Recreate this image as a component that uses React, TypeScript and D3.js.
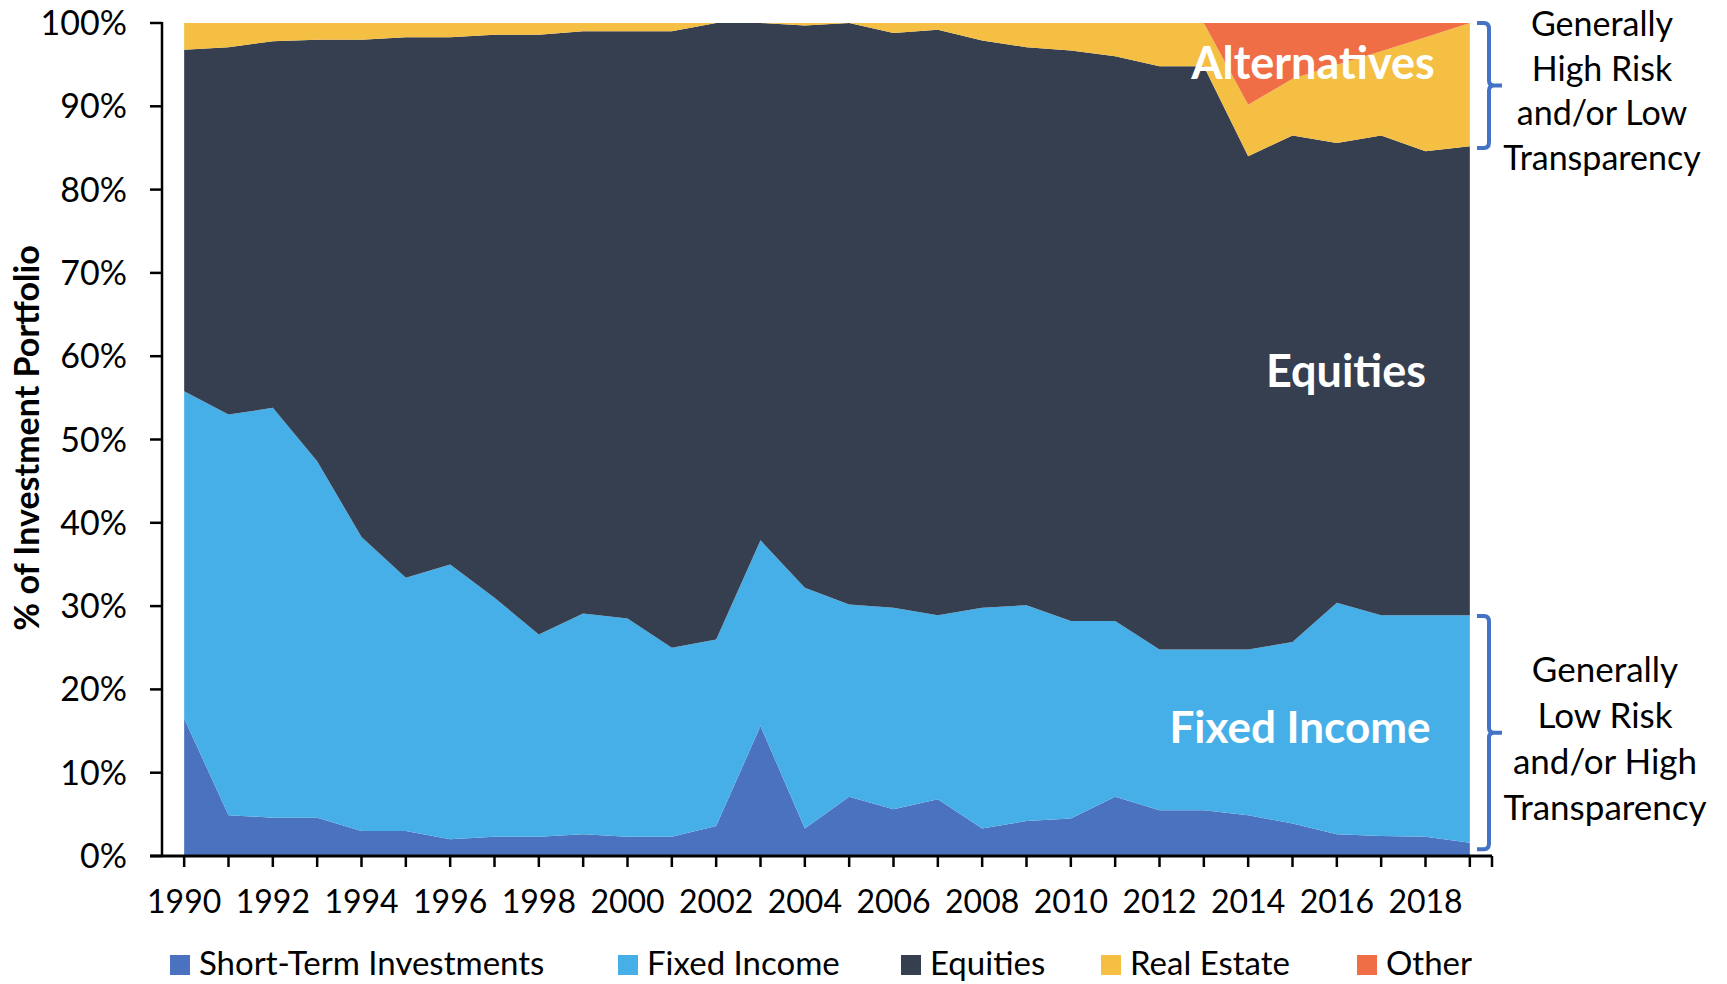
import React from 'react'
import * as d3 from 'd3'

const years = d3.range(1990, 2020).map(String)
const seriesNames = ['Short-Term Investments', 'Fixed Income', 'Equities', 'Real Estate', 'Other']
const seriesColors = ['#4A72BE', '#47AFE8', '#363F50', '#F4BF42', '#EF6E45']

const shortTerm = [16.5, 4.9, 4.6, 4.6, 3.0, 3.0, 2.0, 2.3, 2.3, 2.6, 2.3, 2.3, 3.6, 15.6, 3.3, 7.1, 5.6, 6.8, 3.3, 4.2, 4.5, 7.1, 5.5, 5.5, 4.9, 3.9, 2.6, 2.4, 2.3, 1.6]
const fixedIncome = [39.3, 48.1, 49.2, 42.8, 35.3, 30.4, 33.0, 28.7, 24.3, 26.5, 26.2, 22.7, 22.4, 22.3, 28.9, 23.1, 24.2, 22.1, 26.5, 25.9, 23.7, 21.1, 19.3, 19.3, 19.9, 21.8, 27.8, 26.5, 26.6, 27.3]
const equities = [41.0, 44.1, 44.0, 50.6, 59.7, 64.9, 63.3, 67.6, 72.0, 69.9, 70.5, 74.0, 74.0, 62.1, 67.5, 69.8, 69.0, 70.3, 68.1, 67.0, 68.5, 67.8, 70.0, 70.0, 59.2, 60.8, 55.2, 57.6, 55.7, 56.3]
const realEstate = [3.2, 2.9, 2.2, 2.0, 2.0, 1.7, 1.7, 1.4, 1.4, 1.0, 1.0, 1.0, 0, 0, 0.3, 0, 1.2, 0.8, 2.1, 2.9, 3.3, 4.0, 5.2, 5.2, 6.2, 6.8, 9.4, 10.1, 13.7, 14.8]
const other = [0, 0, 0, 0, 0, 0, 0, 0, 0, 0, 0, 0, 0, 0, 0, 0, 0, 0, 0, 0, 0, 0, 0, 0, 9.8, 6.7, 5.0, 3.4, 1.7, 0]

const yTicks = d3.range(0, 101, 10)
const legendX = [170, 618, 901, 1101, 1357]

const FONT = 'Lato, "Open Sans", sans-serif'

function bracketPath(x0, y0, y1) {
  // brace: serifs to the left, nib in the middle pointing right
  const xv = x0 + 12
  const ym = (y0 + y1) / 2
  return `M${x0},${y0} H${xv - 5} Q${xv},${y0} ${xv},${y0 + 6} V${ym - 5} Q${xv},${ym} ${xv + 5},${ym} H${xv + 13}` +
    ` M${xv + 5},${ym} Q${xv},${ym} ${xv},${ym + 5} V${y1 - 6} Q${xv},${y1} ${xv - 5},${y1} H${x0}`
}

export default function App() {
  const left = 162
  const right = 1492
  const top = 23
  const bottom = 856

  const rows = years.map((yr, i) => ({
    year: yr,
    [seriesNames[0]]: shortTerm[i],
    [seriesNames[1]]: fixedIncome[i],
    [seriesNames[2]]: equities[i],
    [seriesNames[3]]: realEstate[i],
    [seriesNames[4]]: other[i]
  }))
  const stacked = d3.stack().keys(seriesNames)(rows)

  const x = d3.scaleBand().domain(years).range([left, right])
  const cx = (yr) => x(yr) + x.bandwidth() / 2
  const y = d3.scaleLinear().domain([0, 100]).range([bottom, top])

  const area = d3.area()
    .x((d) => cx(d.data.year))
    .y0((d) => y(d[0]))
    .y1((d) => y(d[1]))

  return (
    <div style={{ position: 'absolute', left: 0, top: 0 }}>
      <svg width={1727} height={984} style={{ display: 'block', fontFamily: FONT }}>
        <rect width={1727} height={984} fill="#fff" />
        {stacked.map((s, i) => (
          <path key={s.key} d={area(s)} fill={seriesColors[i]} />
        ))}

        {/* y axis */}
        <line x1={left} x2={left} y1={top - 1} y2={bottom} stroke="#000" strokeWidth={2.5} />
        {yTicks.map((t) => (
          <g key={t}>
            <line x1={left - 12} x2={left} y1={y(t)} y2={y(t)} stroke="#000" strokeWidth={2.5} />
            <text x={127} y={y(t) + 12} textAnchor="end" fontSize={34} fill="#000">{t}%</text>
          </g>
        ))}

        {/* x axis */}
        <line x1={left - 12} x2={right} y1={bottom} y2={bottom} stroke="#000" strokeWidth={3} />
        {years.map((yr) => (
          <line key={yr} x1={cx(yr)} x2={cx(yr)} y1={bottom} y2={bottom + 11} stroke="#000" strokeWidth={2.5} />
        ))}
        <line x1={right} x2={right} y1={bottom} y2={bottom + 11} stroke="#000" strokeWidth={2.5} />
        {years.filter((yr, i) => i % 2 === 0).map((yr) => (
          <text key={yr} x={cx(yr)} y={913} textAnchor="middle" fontSize={32} fill="#000">{yr}</text>
        ))}

        <text transform="translate(39,438) rotate(-90)" textAnchor="middle" fontSize={34} fontWeight="bold" fill="#000">
          % of Investment Portfolio
        </text>

        {/* in-chart labels */}
        <text x={1313} y={79} textAnchor="middle" fontSize={45} fontWeight="bold" fill="#fff">Alternatives</text>
        <text x={1346} y={387} textAnchor="middle" fontSize={45} fontWeight="bold" fill="#fff">Equities</text>
        <text x={1300} y={743} textAnchor="middle" fontSize={44} fontWeight="bold" fill="#fff">Fixed Income</text>

        {/* brackets and notes */}
        <path d={bracketPath(1477, y(100), y(85))} fill="none" stroke="#4472C4" strokeWidth={4} />
        <path d={bracketPath(1477, y(28.8), y(0.8))} fill="none" stroke="#4472C4" strokeWidth={4} />
        {['Generally', 'High Risk', 'and/or Low', 'Transparency'].map((t, i) => (
          <text key={t} x={1602} y={36 + i * 44.5} textAnchor="middle" fontSize={34} fill="#000">{t}</text>
        ))}
        {['Generally', 'Low Risk', 'and/or High', 'Transparency'].map((t, i) => (
          <text key={t} x={1605} y={682 + i * 46} textAnchor="middle" fontSize={35} fill="#000">{t}</text>
        ))}

        {/* legend */}
        {seriesNames.map((n, i) => (
          <g key={n}>
            <rect x={legendX[i]} y={955} width={20} height={20} fill={seriesColors[i]} />
            <text x={legendX[i] + 29} y={975} fontSize={33} fill="#000">{n}</text>
          </g>
        ))}
      </svg>
    </div>
  )
}
